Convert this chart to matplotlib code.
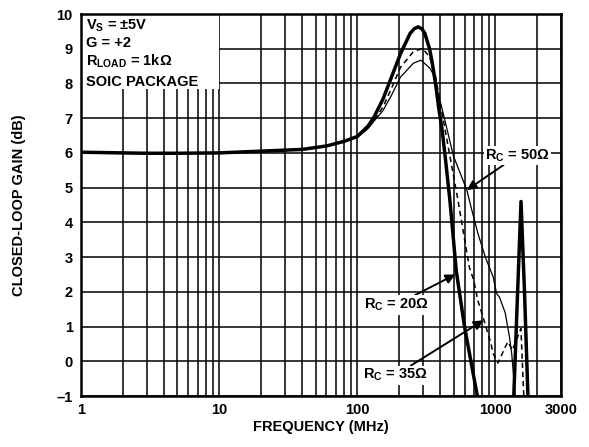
import matplotlib
matplotlib.use('Agg')
import matplotlib.pyplot as plt
from matplotlib.patches import Rectangle
from matplotlib.ticker import FixedLocator, NullFormatter

plt.rcParams['font.family'] = ['Liberation Sans', 'DejaVu Sans']
plt.rcParams['font.weight'] = 'bold'
plt.rcParams['mathtext.fontset'] = 'custom'
plt.rcParams['mathtext.rm'] = 'Liberation Sans:bold'
plt.rcParams['mathtext.it'] = 'Liberation Sans:bold'
plt.rcParams['mathtext.bf'] = 'Liberation Sans:bold'

# ---- data (MHz, dB) ----
freq_20 = [1, 2, 3, 5, 10, 20, 40, 60, 80, 100, 120, 133, 154, 177, 206, 242, 260, 277,
           295, 309, 335, 350, 370, 390, 415, 440, 470, 523, 600, 743, 850,
           1300, 1365, 1455, 1540, 1632, 1728, 1800]
gain_20 = [6.02, 6.0, 5.99, 5.99, 6.0, 6.05, 6.1, 6.2, 6.33, 6.47, 6.77, 7.04, 7.55, 8.17, 8.85, 9.44, 9.58, 9.63,
           9.57, 9.45, 9.0, 8.6, 8.0, 7.3, 6.6, 5.7, 4.64, 2.6, 1.0, -1.0, -3.0,
           -3.0, -1.0, 2.0, 4.6, 2.0, -1.0, -3.0]

freq_35 = [1, 2, 3, 5, 10, 20, 40, 60, 80, 100, 120, 133, 154, 177, 206, 255, 297,
           335, 370, 428, 538, 649, 700, 748, 823, 933, 967, 1050, 1182, 1240,
           1331, 1440, 1537, 1613, 1700]
gain_35 = [6.02, 6.0, 5.99, 5.99, 6.0, 6.05, 6.1, 6.2, 6.33, 6.45, 6.72, 6.95, 7.32, 7.85, 8.46, 8.91, 9.01,
           8.77, 8.2, 6.8, 4.64, 2.72, 2.33, 1.76, 1.23, 0.51, 0.22, -0.05, 0.41, 0.56,
           0.32, 0.65, 0.94, -1.0, -3.0]

freq_50 = [1, 2, 3, 5, 10, 20, 40, 60, 80, 100, 120, 133, 154, 177, 206, 255, 290,
           335, 354, 415, 500, 624, 673, 748, 849, 967, 1025, 1074, 1182, 1270,
           1320, 1398, 1450]
gain_50 = [6.02, 6.0, 5.99, 5.99, 6.0, 6.05, 6.1, 6.2, 6.33, 6.44, 6.7, 6.92, 7.22, 7.65, 8.18, 8.58, 8.67,
           8.45, 8.29, 7.23, 5.9, 4.93, 4.4, 3.7, 3.0, 2.43, 1.95, 1.85, 1.4, 0.7,
           0.2, -1.0, -3.0]

x_ticks = [1, 10, 100, 1000, 3000]
x_ticklabels = ['1', '10', '100', '1000', '3000']
y_ticks = list(range(-1, 11))
y_ticklabels = ['\u20131'] + [str(v) for v in range(0, 11)]

fig = plt.figure(figsize=(5.89, 4.47), dpi=100)
ax = fig.add_axes([81 / 589, 51 / 447, 480 / 589, 382 / 447])

ax.set_xscale('log')
ax.set_xlim(1, 3000)
ax.set_ylim(-1, 10)

minor = [m * d for d in (1, 10, 100) for m in range(2, 10)] + [2000]
ax.xaxis.set_major_locator(FixedLocator(x_ticks))
ax.xaxis.set_minor_locator(FixedLocator(minor))
ax.xaxis.set_minor_formatter(NullFormatter())
ax.set_xticklabels(x_ticklabels)
ax.set_yticks(y_ticks)
ax.set_yticklabels(y_ticklabels)

ax.set_axisbelow(True)
ax.grid(which='major', axis='both', color='black', lw=1.1)
ax.grid(which='minor', axis='x', color='black', lw=1.1)
ax.tick_params(which='both', length=0, labelsize=10.5)
ax.tick_params(axis='x', pad=5)
ax.tick_params(axis='y', pad=6)
for s in ax.spines.values():
    s.set_linewidth(1.8)

# white box behind the condition text
ax.add_patch(Rectangle((1, 7.85), 9, 2.15, facecolor='white', edgecolor='none', zorder=1))

ax.plot(freq_20, gain_20, color='black', lw=2.5, zorder=3)
ax.plot(freq_35, gain_35, color='black', lw=1.1, ls=(0, (3.5, 2.5)), zorder=3)
ax.plot(freq_50, gain_50, color='black', lw=0.9, zorder=3)

cond = [r'V$_{\rm S}$ = ±5V', 'G = +2', r'R$_{\rm LOAD}$ = 1kΩ', 'SOIC PACKAGE']
ys = [9.56, 9.04, 8.5, 7.93]
for t, yv in zip(cond, ys):
    ax.text(1.087, yv, t, fontsize=10.5, fontweight='bold', va='baseline', ha='left', zorder=4)

ax.set_xlabel('FREQUENCY (MHz)', fontsize=10.5, fontweight='bold')
ax.set_ylabel('CLOSED-LOOP GAIN (dB)', fontsize=10.5, fontweight='bold')
ax.xaxis.set_label_coords(0.5, -0.062)
ax.yaxis.set_label_coords(-0.115, 0.5)

ap = dict(arrowstyle='-|>', mutation_scale=14, lw=1.4, color='black', shrinkA=0, shrinkB=0)
bb = dict(facecolor='white', edgecolor='none', pad=1.0)
ax.annotate(r'R$_{\rm C}$ = 50Ω', xy=(624, 4.93), xytext=(850, 5.93), fontsize=10.5,
            fontweight='bold', ha='left', va='center', bbox=bb, arrowprops=ap, zorder=5)
ax.annotate(r'R$_{\rm C}$ = 20Ω', xy=(515, 2.5), xytext=(327, 1.62), fontsize=10.5,
            fontweight='bold', ha='right', va='center', bbox=bb, arrowprops=ap, zorder=5)
ax.annotate(r'R$_{\rm C}$ = 35Ω', xy=(823, 1.18), xytext=(325, -0.4), fontsize=10.5,
            fontweight='bold', ha='right', va='center', bbox=bb, arrowprops=ap, zorder=5)

fig.savefig('out.png', dpi=100)
